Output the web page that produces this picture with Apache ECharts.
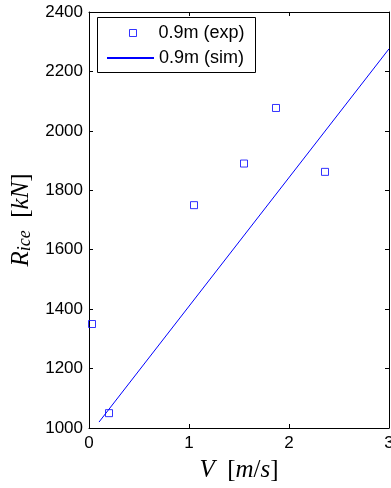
<!DOCTYPE html>
<html>
<head>
<meta charset="utf-8">
<script src="https://cdn.jsdelivr.net/npm/echarts@6/dist/echarts.min.js"></script>
<style>html,body{margin:0;padding:0;background:#fff}#c{width:391px;height:488px}</style>
</head>
<body>
<div id="c"></div>
<script>
// Data
const expV = [0.03, 0.2, 1.05, 1.55, 1.87, 2.36];
const expR = [1350, 1050, 1750, 1890, 2077, 1862];
const simV = [0.1, 3.0];
const simR = [1020, 2276];
const expName = '0.9m (exp)';
const simName = '0.9m (sim)';
const xTicks = [0, 1, 2, 3];
const yTicks = [1000, 1200, 1400, 1600, 1800, 2000, 2200, 2400];

const chart = echarts.init(document.getElementById('c'));
const tickFont = { fontFamily: 'Liberation Sans', fontSize: 17, color: '#000', formatter: v => String(v) };
const serif = 'Liberation Serif';
const axisBase = {
  axisLine: { show: true, onZero: false, lineStyle: { color: '#000', width: 1 } },
  axisTick: { show: true, inside: true, length: 4, lineStyle: { color: '#000' } },
  splitLine: { show: false }
};
chart.setOption({
  animation: false,
  backgroundColor: '#fff',
  grid: { left: 89, right: 2, top: 12, bottom: 60, containLabel: false, outerBoundsMode: 'none' },
  xAxis: [
    Object.assign({
      type: 'value', min: xTicks[0], max: xTicks[xTicks.length - 1], interval: 1, position: 'bottom',
      axisLabel: Object.assign({ margin: 7 }, tickFont),
      name: '{i|V}{n|  [}{i|m}{n|/}{i|s}{n|]}', nameLocation: 'middle', nameGap: 30,
      nameTextStyle: { rich: {
        i: { fontFamily: serif, fontStyle: 'italic', fontSize: 25, color: '#000' },
        n: { fontFamily: serif, fontSize: 25, color: '#000' }
      } }
    }, axisBase),
    Object.assign({
      type: 'value', min: xTicks[0], max: xTicks[xTicks.length - 1], interval: 1, position: 'top',
      axisLabel: { show: false }
    }, axisBase)
  ],
  yAxis: [
    Object.assign({
      type: 'value', min: yTicks[0], max: yTicks[yTicks.length - 1], interval: 200, position: 'left',
      axisLabel: Object.assign({ margin: 6 }, tickFont),
      name: '{i|R}{sub|ice}{n|  [}{i|kN}{n|]}', nameLocation: 'middle', nameGap: 53, nameRotate: 90,
      nameTextStyle: { rich: {
        i: { fontFamily: serif, fontStyle: 'italic', fontSize: 25, lineHeight: 26, color: '#000' },
        sub: { fontFamily: serif, fontStyle: 'italic', fontSize: 18, lineHeight: 16, verticalAlign: 'bottom', color: '#000' },
        n: { fontFamily: serif, fontSize: 25, lineHeight: 26, color: '#000' }
      } }
    }, axisBase),
    Object.assign({
      type: 'value', min: yTicks[0], max: yTicks[yTicks.length - 1], interval: 200, position: 'right',
      axisLabel: { show: false }
    }, axisBase)
  ],
  legend: [
    {
      data: [expName], left: 129, top: 24, padding: 0, orient: 'vertical',
      itemWidth: 7, itemHeight: 7, icon: 'rect', selectedMode: false,
      itemStyle: { color: 'transparent', borderColor: '#0000ff', borderWidth: 1 },
      formatter: n => '{s| }{t|' + n + '}',
      textStyle: { rich: {
        s: { width: 17, fontSize: 18 },
        t: { fontFamily: 'Liberation Sans', fontSize: 18, color: '#000' }
      } }
    },
    {
      data: [simName], left: 106, top: 49, padding: 0, orient: 'vertical',
      itemWidth: 47, itemHeight: 2, selectedMode: false,
      textStyle: { fontFamily: 'Liberation Sans', fontSize: 18, color: '#000' }
    }
  ],
  graphic: [{
    type: 'rect', z: 3,
    shape: { x: 97.5, y: 17.5, width: 158, height: 55 },
    style: { fill: '#fff', stroke: '#000', lineWidth: 1 }
  }],
  series: [
    {
      name: expName, type: 'scatter', symbol: 'rect', symbolSize: 7,
      itemStyle: { color: 'transparent', borderColor: '#0000ff', borderWidth: 1 },
      data: expV.map((v, i) => [v, expR[i]]), z: 3
    },
    {
      name: simName, type: 'line', symbol: 'none', showSymbol: false,
      lineStyle: { color: '#0000ff', width: 1 }, itemStyle: { color: '#0000ff' },
      data: simV.map((v, i) => [v, simR[i]]), z: 2
    }
  ]
});
</script>
</body>
</html>
